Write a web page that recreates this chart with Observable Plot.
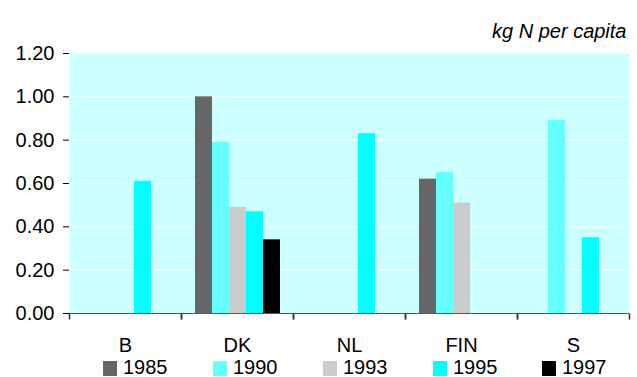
<!DOCTYPE html>
<html>
<head>
<meta charset="utf-8">
<script src="https://cdn.jsdelivr.net/npm/d3@7"></script>
<script src="https://cdn.jsdelivr.net/npm/@observablehq/plot@0.6"></script>
<style>
  html, body { margin: 0; padding: 0; background: #fff; }
  #wrap { position: relative; width: 637px; height: 377px; overflow: hidden;
          font-family: "Liberation Sans", Arial, sans-serif; }
  .sw { position: absolute; top: 361px; width: 14px; height: 15px; }
  .lab { position: absolute; top: 357px; font-size: 20px; line-height: 20px; color: #000; white-space: nowrap; }
</style>
</head>
<body>
<div id="wrap">
  <div id="chart"></div>
</div>
<script>
// Countries along the axis and the survey years shown in each group
const categories = ["B", "DK", "NL", "FIN", "S"];
const years = ["1985", "1990", "1993", "1995", "1997"];
const yearColors = ["#666666", "#66FFFF", "#CCCCCC", "#00FFFF", "#000000"];

// kg N per capita, one array per year, ordered like `categories` (null = no data)
const v1985 = [null, 1.00, null, 0.62, null];
const v1990 = [null, 0.79, null, 0.65, 0.89];
const v1993 = [null, 0.49, null, 0.51, null];
const v1995 = [0.61, 0.47, 0.83, null, 0.35];
const v1997 = [null, 0.34, null, null, null];

const yTicks = [0, 0.2, 0.4, 0.6, 0.8, 1.0, 1.2];
const unitLabel = "kg N per capita";

const series = [v1985, v1990, v1993, v1995, v1997];
const rows = [];
series.forEach((vals, i) => {
  vals.forEach((v, j) => {
    if (v != null) rows.push({country: categories[j], year: years[i], value: v});
  });
});

// short downward stroke used for the category boundary ticks
const tickDown = {draw(ctx) { ctx.moveTo(0, 0); ctx.lineTo(0, 6); }};

const chart = Plot.plot({
  width: 637,
  height: 355,
  marginTop: 53,
  marginLeft: 67,
  marginRight: 7,
  marginBottom: 42,
  style: {fontFamily: "'Liberation Sans', Arial, sans-serif", fontSize: "20px", color: "#000", background: "#fff", overflow: "visible"},
  fx: {domain: categories, padding: 0, label: null},
  x: {type: "band", domain: years, paddingInner: 0, paddingOuter: 0.75, axis: null},
  y: {domain: [0, 1.2]},
  color: {domain: years, range: yearColors},
  marks: [
    Plot.frame({fill: "#CCFFFF"}),
    Plot.ruleY(yTicks.slice(1, -1), {stroke: "#fff", strokeWidth: 1}),
    Plot.barY(rows, {fx: "country", x: "year", y: "value", fill: "year"}),
    Plot.ruleY([0], {stroke: "#555", strokeWidth: 1}),
    Plot.axisY({ticks: yTicks, tickFormat: ".2f", tickSize: 6, tickPadding: 9, label: null, line: true, stroke: "#000", fontSize: 20}),
    Plot.axisFx({anchor: "bottom", tickSize: 0, tickPadding: 24, label: null, fontSize: 20}),
    Plot.dot(categories, {fx: d => d, frameAnchor: "bottom-left", symbol: tickDown, stroke: "#333", fill: "none"}),
    Plot.dot(categories, {fx: d => d, frameAnchor: "bottom-right", symbol: tickDown, stroke: "#333", fill: "none"}),
    Plot.text([unitLabel], {fx: () => "S", text: d => d, frameAnchor: "top-right", textAnchor: "end", lineAnchor: "bottom", dx: -3, dy: -16, fontStyle: "italic", fontSize: 20})
  ]
});
document.getElementById("chart").appendChild(chart);

// legend row under the chart
const legendX = [103, 213, 323, 433, 542];
const wrap = document.getElementById("wrap");
years.forEach((y, i) => {
  const sw = document.createElement("div");
  sw.className = "sw";
  sw.style.left = legendX[i] + "px";
  sw.style.background = yearColors[i];
  const lab = document.createElement("div");
  lab.className = "lab";
  lab.style.left = (legendX[i] + 20) + "px";
  lab.textContent = y;
  wrap.appendChild(sw);
  wrap.appendChild(lab);
});
</script>
</body>
</html>
